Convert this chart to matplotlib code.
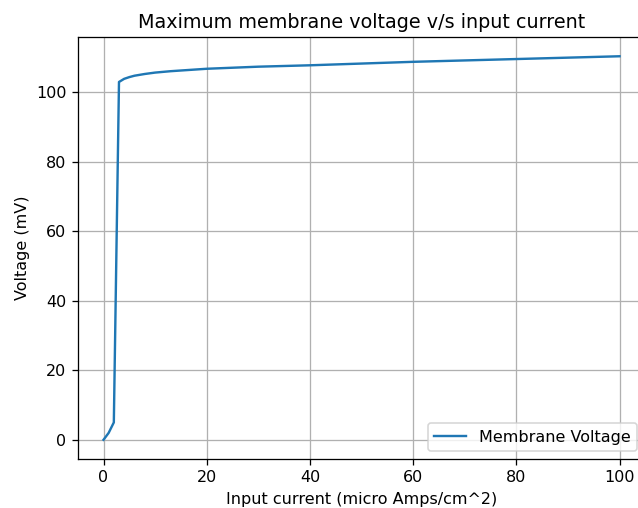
import matplotlib
matplotlib.use("Agg")
import matplotlib.pyplot as plt

# input current (micro Amps/cm^2) and peak membrane voltage (mV)
current = [0, 1, 2, 3, 4, 5, 6, 8, 10, 13, 16, 20, 25, 30, 40, 50, 60, 70, 80, 90, 100]
voltage = [0.0, 2.0, 5.0, 103.0, 103.9, 104.4, 104.8, 105.3, 105.7, 106.1, 106.4,
           106.8, 107.1, 107.4, 107.8, 108.3, 108.8, 109.2, 109.6, 110.0, 110.4]

# the reference looks like a default chart blown up ~1.15x, so render at 115 dpi
DPI = 115
fig = plt.figure(figsize=(638 / DPI, 508 / DPI), dpi=DPI)
# the original is cropped on the right, so the axes run slightly past the figure edge
ax = fig.add_axes([0.1218, 0.0965, 0.8897, 0.8305])

ax.plot(current, voltage, color='#1f77b4', linewidth=1.5, label='Membrane Voltage')
ax.set_title('Maximum membrane voltage v/s input current')
ax.set_xlabel('Input current (micro Amps/cm^2)')
ax.set_ylabel('Voltage (mV)')
ax.grid(True)
ax.legend(loc='lower right')

fig.savefig('out.png', dpi=DPI)
